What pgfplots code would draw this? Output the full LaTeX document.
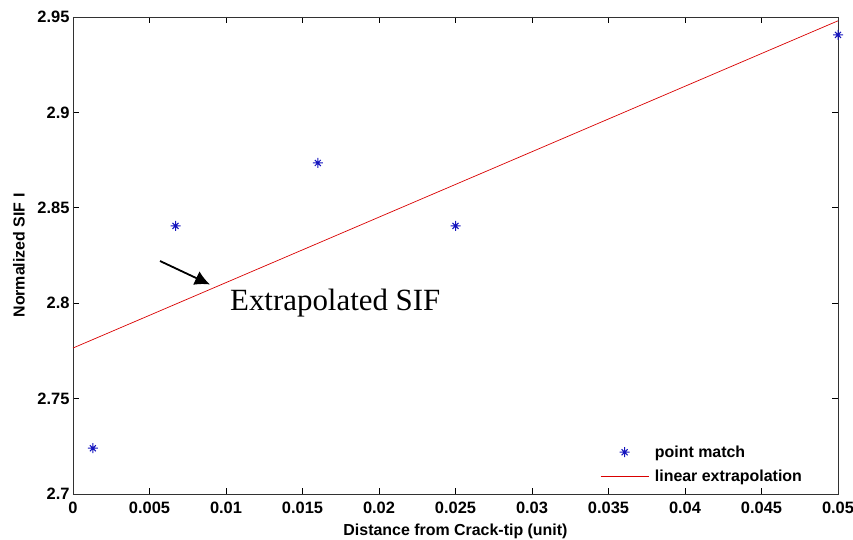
\documentclass[border=0pt]{standalone}
\usepackage{fontspec}
\setmainfont{Liberation Sans}
\newfontfamily\seriffont{Liberation Serif}
\usepackage{pgfplots}
\pgfplotsset{compat=1.18}
\usetikzlibrary{arrows.meta}
\definecolor{ptblue}{RGB}{20,20,190}
\definecolor{axgray}{RGB}{50,50,50}
\pgfdeclareplotmark{mstar}{%
  \pgfpathmoveto{\pgfqpoint{-\pgfplotmarksize}{0pt}}%
  \pgfpathlineto{\pgfqpoint{\pgfplotmarksize}{0pt}}%
  \pgfpathmoveto{\pgfqpoint{0pt}{-\pgfplotmarksize}}%
  \pgfpathlineto{\pgfqpoint{0pt}{\pgfplotmarksize}}%
  \pgfpathmoveto{\pgfqpoint{-0.6\pgfplotmarksize}{-0.6\pgfplotmarksize}}%
  \pgfpathlineto{\pgfqpoint{0.6\pgfplotmarksize}{0.6\pgfplotmarksize}}%
  \pgfpathmoveto{\pgfqpoint{-0.6\pgfplotmarksize}{0.6\pgfplotmarksize}}%
  \pgfpathlineto{\pgfqpoint{0.6\pgfplotmarksize}{-0.6\pgfplotmarksize}}%
  \pgfusepathqstroke}
\pgfplotsset{
  markleg/.style={legend image code/.code={\draw[##1] plot coordinates {(24bp,0bp)};}},
  lineleg/.style={legend image code/.code={\draw[##1] (0bp,0bp) -- (48bp,0bp);}},
}
\begin{document}
\begin{tikzpicture}
\path[use as bounding box] (-73bp,-46bp) rectangle (780bp,494bp);
\begin{axis}[
  scale only axis,
  width=765bp, height=477bp,
  xmin=0, xmax=0.05, ymin=2.7, ymax=2.95,
  xtick={0,0.005,...,0.05},
  ytick={2.7,2.75,2.8,2.85,2.9,2.95},
  scaled ticks=false,
  xticklabel style={/pgf/number format/fixed, /pgf/number format/precision=3, yshift=-5bp},
  yticklabel style={/pgf/number format/fixed, /pgf/number format/precision=2},
  /pgf/number format/assume math mode=true,
  tick label style={font=\fontsize{16.5}{18}\selectfont\bfseries},
  label style={font=\fontsize{16}{18}\selectfont\bfseries},
  tick align=inside,
  major tick length=6bp,
  tick style={black, line width=0.8bp},
  axis line style={axgray, line width=0.9bp},
  xlabel={Distance from Crack-tip (unit)},
  ylabel={Normalized SIF I},
  xlabel style={at={(axis description cs:0.5,-0.086)}, anchor=base},
  ylabel style={at={(axis description cs:-0.0706,0.5)}, anchor=center},
  legend style={at={(axis description cs:0.685,0.11)}, anchor=north west,
    draw=none, fill=none, font=\fontsize{16}{18}\selectfont\bfseries,
    row sep=7bp, nodes={inner sep=2bp}, column sep=4bp},
  legend cell align=left,
  clip=false,
]
\addplot[only marks, mark=mstar, mark size=5bp, color=ptblue, line width=1bp, markleg]
  coordinates {(0.0013,2.724) (0.0067,2.8405) (0.016,2.8735) (0.025,2.8405) (0.05,2.9406)};
\addlegendentry{point match}
\addplot[red!85!black, line width=0.7bp, lineleg]
  coordinates {(0,2.7765) (0.05,2.948)};
\addlegendentry{linear extrapolation}
\draw[-{Latex[length=15bp,width=15bp]}, line width=1.8bp, black]
  (axis cs:0.00569,2.8221) -- (axis cs:0.00895,2.8098);
\node[anchor=base west, inner sep=0pt, font=\seriffont\fontsize{31}{34}\selectfont]
  at (axis cs:0.01026,2.796) {Extrapolated SIF};
\end{axis}
\end{tikzpicture}
\end{document}
